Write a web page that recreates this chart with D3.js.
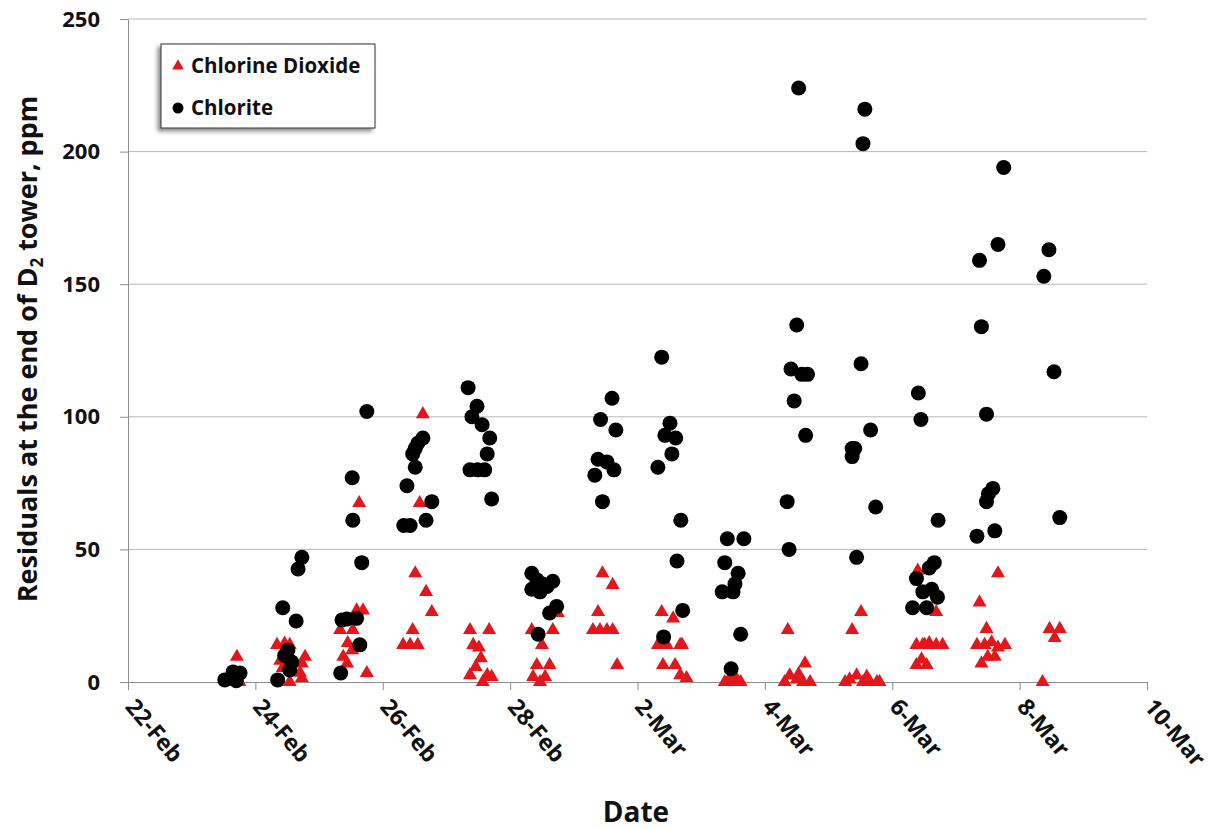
<!DOCTYPE html>
<html lang="en">
<head>
<meta charset="UTF-8">
<title>Residuals at the end of D2 tower</title>
<script src="https://d3js.org/d3.v7.min.js"></script>
<style>
  body { margin: 0; background: #fff; }
  svg { display: block; font-family: "Open Sans", sans-serif; font-weight: bold; }
  .grid line { stroke: #b8b8b8; stroke-width: 1; }
  .axis path, .axis line { stroke: #8c8c8c; }
</style>
</head>
<body>
<div id="chart"></div>
<script>
const width = 1215, height = 829;

const xTickLabels = ["22-Feb", "24-Feb", "26-Feb", "28-Feb", "2-Mar", "4-Mar", "6-Mar", "8-Mar", "10-Mar"];
const yTickValues = [0, 50, 100, 150, 200, 250];

// [month, day of month incl. fraction of the day, ppm]
const chlorineDioxide = [
  [2,23.71,9.5],[2,23.57,0],[2,23.70,0],[2,23.62,0],[2,23.75,0],
  [2,24.34,14],[2,24.46,14.5],[2,24.54,14],[2,24.78,9.5],[2,24.39,8],[2,24.73,7],[2,24.70,3.5],[2,24.54,0],[2,24.73,1.5],[2,24.43,5.3],
  [2,25.59,27],[2,25.69,27],[2,25.33,19.6],[2,25.53,19.6],[2,25.45,14.7],[2,25.38,9.5],[2,25.44,7],[2,25.75,3.4],[2,25.63,67.5],[2,25.52,12],
  [2,26.51,41],[2,26.68,34],[2,26.77,26.4],[2,26.47,19.6],[2,26.32,14],[2,26.43,14],[2,26.55,14],[2,26.63,101],[2,26.58,67.5],
  [2,27.37,19.6],[2,27.67,19.6],[2,27.42,14],[2,27.51,13],[2,27.54,9],[2,27.46,5.7],[2,27.37,2.6],[2,27.64,2.6],[2,27.57,0],[2,27.71,1.9],
  [2,28.34,19.6],[2,28.67,19.6],[2,28.50,14],[2,28.42,6.4],[2,28.62,6.4],[2,28.36,1.9],[2,28.55,1.9],[2,28.47,0],[2,28.75,26],
  [3,1.45,41],[3,1.61,36.6],[3,1.38,26.4],[3,1.30,19.6],[3,1.41,19.6],[3,1.52,19.6],[3,1.61,19.6],[3,1.68,6.4],
  [3,2.38,26.4],[3,2.56,24],[3,2.32,14],[3,2.46,14],[3,2.67,14],[3,2.40,6.4],[3,2.59,6.4],[3,2.67,2.6],[3,2.77,1.5],[3,2.70,14],
  [3,3.37,0],[3,3.45,1.5],[3,3.50,0],[3,3.58,0],[3,3.62,0],[3,3.53,2],
  [3,4.36,19.6],[3,4.63,7],[3,4.39,2.5],[3,4.50,1],[3,4.60,0],[3,4.71,0],[3,4.31,0],[3,4.53,3],
  [3,5.51,26.4],[3,5.37,19.6],[3,5.33,1],[3,5.44,2.5],[3,5.54,0],[3,5.65,0],[3,5.76,0],[3,5.26,0],[3,5.80,0],[3,5.60,2],
  [3,6.38,14],[3,6.48,14],[3,6.58,14.7],[3,6.69,14],[3,6.79,14],[3,6.46,8.5],[3,6.38,6.4],[3,6.54,6.4],[3,6.69,26.4],[3,6.40,42],[3,6.51,14],
  [3,7.66,41],[3,7.37,30],[3,7.48,20],[3,7.33,14],[3,7.45,14],[3,7.56,15],[3,7.66,13],[3,7.77,14],[3,7.50,9.5],[3,7.61,9.5],[3,7.40,7],
  [3,8.36,0],[3,8.47,20],[3,8.63,20],[3,8.55,16.6]
];

const chlorite = [
  [2,23.52,0.8],[2,23.65,3.8],[2,23.76,3.4],[2,23.70,0.5],
  [2,24.35,0.8],[2,24.51,12],[2,24.46,10],[2,24.57,7.5],[2,24.54,4.5],[2,24.43,28],[2,24.64,23],[2,24.67,42.6],[2,24.73,47],
  [2,25.36,23.4],[2,25.44,23.8],[2,25.59,24],[2,25.64,14],[2,25.34,3.4],[2,25.67,45],[2,25.52,77],[2,25.53,61],[2,25.75,102],
  [2,26.63,92],[2,26.55,90],[2,26.51,88],[2,26.47,86],[2,26.51,81],[2,26.38,74],[2,26.77,68],[2,26.33,59],[2,26.43,59],[2,26.68,61],
  [2,27.34,111],[2,27.48,104],[2,27.40,100],[2,27.56,97],[2,27.68,92],[2,27.64,86],[2,27.37,80],[2,27.49,80],[2,27.60,80],[2,27.71,69],
  [2,28.34,41],[2,28.42,38.5],[2,28.51,37],[2,28.67,38],[2,28.34,35],[2,28.47,34],[2,28.58,36],[2,28.62,26],[2,28.73,28.5],[2,28.44,18],
  [3,1.60,107],[3,1.42,99],[3,1.66,95],[3,1.38,84],[3,1.52,83],[3,1.63,80],[3,1.33,78],[3,1.45,68],
  [3,2.38,122.5],[3,2.51,97.6],[3,2.43,93],[3,2.60,92],[3,2.54,86],[3,2.32,81],[3,2.68,61],[3,2.62,45.6],[3,2.71,27],[3,2.41,17],
  [3,3.41,54],[3,3.67,54],[3,3.37,45],[3,3.58,41],[3,3.53,37],[3,3.33,34],[3,3.50,34],[3,3.62,18],[3,3.47,5],
  [3,4.53,224],[3,4.50,134.6],[3,4.41,118],[3,4.58,116],[3,4.67,116],[3,4.46,106],[3,4.64,93],[3,4.35,68],[3,4.38,50],
  [3,5.57,216],[3,5.54,203],[3,5.51,120],[3,5.37,88],[3,5.41,88],[3,5.37,85],[3,5.66,95],[3,5.74,66],[3,5.44,47],
  [3,6.41,109],[3,6.45,99],[3,6.72,61],[3,6.66,45],[3,6.58,43],[3,6.38,39],[3,6.62,35],[3,6.48,34],[3,6.71,32],[3,6.32,28],[3,6.54,28],
  [3,7.75,194],[3,7.66,165],[3,7.37,159],[3,7.40,134],[3,7.48,101],[3,7.58,73],[3,7.51,71],[3,7.48,68],[3,7.61,57],[3,7.33,55],
  [3,8.46,163],[3,8.38,153],[3,8.54,117],[3,8.63,62]
];

const red = "#e3161b";
const parseTick = d3.timeParse("%Y-%d-%b");
const toDate = d => new Date(new Date(2011, d[0] - 1, 1).getTime() + (d[1] - 1) * 864e5);

const svg = d3.select("#chart").append("svg")
  .attr("width", width)
  .attr("height", height);

const x = d3.scaleTime()
  .domain([parseTick("2011-22-Feb"), parseTick("2011-10-Mar")])
  .range([128, 1147]);
const y = d3.scaleLinear().domain([0, 250]).range([682, 19]);

// horizontal gridlines
svg.append("g")
  .attr("class", "grid")
  .selectAll("line")
  .data(yTickValues.filter(v => v > 0))
  .join("line")
  .attr("x1", x.range()[0]).attr("x2", x.range()[1])
  .attr("y1", d => y(d)).attr("y2", d => y(d));

// y axis
const yAxis = svg.append("g")
  .attr("class", "axis")
  .attr("transform", `translate(${x.range()[0]},0)`)
  .call(d3.axisLeft(y).tickValues(yTickValues).tickSize(8).tickSizeOuter(0).tickPadding(20));
yAxis.selectAll("text")
  .attr("font-size", 22).attr("font-family", "Open Sans").attr("font-weight", "bold").attr("fill", "#111");

// x axis
const tickDates = xTickLabels.map(s => parseTick("2011-" + s));
const xAxis = svg.append("g")
  .attr("class", "axis")
  .attr("transform", `translate(0,${y(0)})`)
  .call(d3.axisBottom(x).tickValues(tickDates).tickFormat(d3.timeFormat("%-d-%b")).tickSize(8).tickSizeOuter(0));
xAxis.selectAll("text")
  .attr("font-size", 23).attr("font-family", "Open Sans").attr("font-weight", "bold").attr("fill", "#111")
  .attr("text-anchor", "start")
  .attr("transform", "translate(2,20) rotate(50)")
  .attr("x", 0).attr("y", 0).attr("dy", "0.35em");

// points
svg.append("g")
  .selectAll("path")
  .data(chlorineDioxide)
  .join("path")
  .attr("d", d3.symbol(d3.symbolTriangle).size(85))
  .attr("transform", d => `translate(${x(toDate(d))},${y(d[2])})`)
  .attr("fill", red);

svg.append("g")
  .selectAll("circle")
  .data(chlorite)
  .join("circle")
  .attr("cx", d => x(toDate(d)))
  .attr("cy", d => y(d[2]))
  .attr("r", 7.5)
  .attr("fill", "#000");

// axis titles
const yTitle = svg.append("text")
  .attr("transform", "translate(37,349) rotate(-90)")
  .attr("text-anchor", "middle")
  .attr("font-size", 27)
  .attr("fill", "#111");
yTitle.append("tspan").text("Residuals at the end of D");
yTitle.append("tspan").attr("font-size", 17).attr("dy", 6).text("2");
yTitle.append("tspan").attr("dy", -6).text(" tower, ppm");

svg.append("text")
  .attr("x", 636).attr("y", 822)
  .attr("text-anchor", "middle")
  .attr("font-size", 28)
  .attr("fill", "#111")
  .text("Date");

// legend
const defs = svg.append("defs");
defs.append("filter").attr("id", "shadow")
  .attr("x", "-10%").attr("y", "-10%").attr("width", "120%").attr("height", "130%")
  .append("feDropShadow")
  .attr("dx", -3).attr("dy", 3).attr("stdDeviation", 2)
  .attr("flood-color", "#000").attr("flood-opacity", 0.45);

const legend = svg.append("g").attr("transform", "translate(161,44)");
legend.append("rect")
  .attr("width", 214).attr("height", 84)
  .attr("fill", "#fff").attr("stroke", "#333").attr("stroke-width", 1)
  .attr("filter", "url(#shadow)");

const legendItems = [
  { name: "Chlorine Dioxide", shape: "triangle" },
  { name: "Chlorite", shape: "circle" }
];
const item = legend.selectAll("g.item")
  .data(legendItems)
  .join("g")
  .attr("class", "item")
  .attr("transform", (d, i) => `translate(17,${22 + i * 42})`);
item.filter(d => d.shape === "triangle").append("path")
  .attr("d", d3.symbol(d3.symbolTriangle).size(60))
  .attr("fill", red);
item.filter(d => d.shape === "circle").append("circle")
  .attr("r", 5.5).attr("fill", "#000");
item.append("text")
  .attr("x", 13).attr("dy", "0.35em")
  .attr("font-size", 20.5)
  .attr("fill", "#111")
  .text(d => d.name);
</script>
</body>
</html>
